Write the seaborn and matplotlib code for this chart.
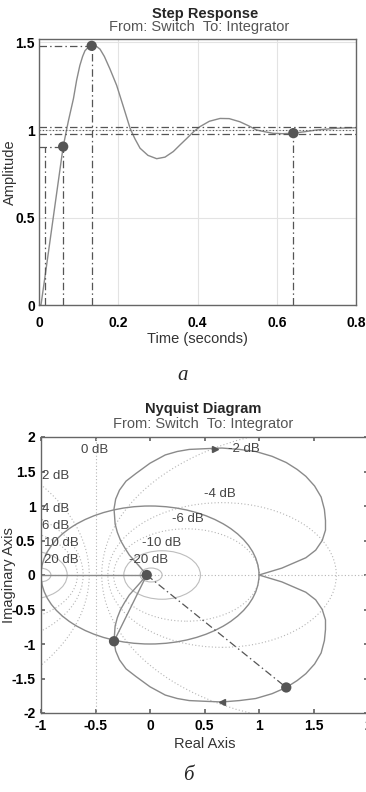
import numpy as np
import pandas as pd
import matplotlib
matplotlib.use('Agg')
import matplotlib.pyplot as plt
from matplotlib.patches import Circle
import seaborn as sns

# step response
step_t = [0.0, 0.005, 0.02, 0.04, 0.061, 0.074, 0.087, 0.095, 0.103, 0.11, 0.116, 0.124, 0.133,
          0.145, 0.154, 0.165, 0.179, 0.196, 0.212, 0.23, 0.242, 0.255, 0.275, 0.297, 0.318,
          0.339, 0.356, 0.373, 0.39, 0.406, 0.43, 0.457, 0.48, 0.507, 0.528, 0.549, 0.57, 0.591,
          0.615, 0.642, 0.67, 0.70, 0.75, 0.8]
step_y = [0.0, 0.0, 0.24, 0.565, 0.905, 1.05, 1.18, 1.285, 1.368, 1.42, 1.453, 1.472, 1.481,
          1.478, 1.462, 1.42, 1.349, 1.255, 1.14, 1.009, 0.95, 0.896, 0.855, 0.836, 0.845,
          0.877, 0.915, 0.952, 0.99, 1.019, 1.05, 1.066, 1.065, 1.047, 1.025, 1.0, 0.99, 0.981,
          0.979, 0.982, 0.99, 1.0, 1.01, 1.013]

# characteristic points: rise (10%, 90%), peak, settling
rise_t10 = 0.015
rise_t90, rise_y90 = 0.061, 0.905
peak_t, peak_y = 0.133, 1.481
settle_t, settle_y = 0.642, 0.982
settle_band = [0.98, 1.02]
final_value = 1.0

# nyquist curve, positive frequencies (from w=0 to w=inf)
nyq_re = [1.0, 1.21, 1.43, 1.52, 1.58, 1.61, 1.61, 1.60, 1.57, 1.51, 1.43, 1.35, 1.25, 1.12,
          0.97, 0.82, 0.66, 0.5, 0.36, 0.25, 0.14, 0.0, -0.13, -0.22, -0.28, -0.315, -0.33,
          -0.325, -0.32, -0.30, -0.27, -0.23, -0.19, -0.10, -0.03]
nyq_im = [0.0, -0.1, -0.25, -0.36, -0.5, -0.65, -0.79, -0.95, -1.13, -1.29, -1.43, -1.53, -1.63,
          -1.72, -1.79, -1.82, -1.84, -1.83, -1.82, -1.79, -1.74, -1.62, -1.47, -1.36, -1.23,
          -1.1, -0.96, -0.85, -0.74, -0.62, -0.5, -0.39, -0.29, -0.13, 0.0]

# marked points on nyquist
end_pt = (-0.03, 0.0)
pm_pt = (-0.33, -0.96)
peak_pt = (1.25, -1.63)
arrow_re = [0.6, 0.66]
arrow_im = [1.83, -1.84]

# M-circle grid
m_db = [20, 10, 6, 4, 2, -2, -4, -6, -10, -20]
m_labels = ['0 dB', '2 dB', '4 dB', '6 dB', '10 dB', '20 dB', '-20 dB', '-10 dB', '-6 dB', '-4 dB', '-2 dB']
m_lab_x = [-0.63, -0.99, -0.99, -0.99, -0.97, -0.97, -0.19, -0.07, 0.2, 0.5, 0.72]
m_lab_y = [1.81, 1.44, 0.96, 0.71, 0.46, 0.22, 0.22, 0.46, 0.81, 1.17, 1.82]

sns.set_theme(style='white')
plt.rcParams['font.family'] = ['Liberation Sans', 'DejaVu Sans']

line_gray = '#8a8a8a'
dark = '#555555'
dashdot = (0, (6, 2.5, 1.2, 2.5))
dotted = (0, (1, 2))

fig = plt.figure(figsize=(3.66, 7.92), dpi=100)

# ---------------- step response ----------------
ax1 = fig.add_axes([39 / 366, 1 - 305 / 792, 317 / 366, 266 / 792])
df = pd.DataFrame({'t': step_t, 'y': step_y})
sns.lineplot(data=df, x='t', y='y', ax=ax1, color=line_gray, lw=1.0, sort=False, estimator=None)

for yv in settle_band:
    ax1.axhline(yv, color=dark, lw=0.9, ls=dashdot)
ax1.axhline(final_value, color=dark, lw=0.8, ls=dotted)

ax1.plot([rise_t10, rise_t10], [0, rise_y90], color=dark, lw=0.9, ls=dashdot)
ax1.plot([rise_t90, rise_t90], [0, rise_y90], color=dark, lw=0.9, ls=dashdot)
ax1.plot([0, rise_t90], [rise_y90, rise_y90], color=dark, lw=0.9, ls=dashdot)
ax1.plot([peak_t, peak_t], [0, peak_y], color=dark, lw=0.9, ls=dashdot)
ax1.plot([0, peak_t], [peak_y, peak_y], color=dark, lw=0.9, ls=dashdot)
ax1.plot([settle_t, settle_t], [0, settle_y], color=dark, lw=0.9, ls=dashdot)

sns.scatterplot(x=[rise_t90, peak_t, settle_t], y=[rise_y90, peak_y, settle_y], ax=ax1,
                color=dark, s=55, edgecolor='none', zorder=5)

ax1.set_xlim(0, 0.8)
ax1.set_ylim(0, 1.52)
ax1.set_xticks([0, 0.2, 0.4, 0.6, 0.8])
ax1.set_xticklabels(['0', '0.2', '0.4', '0.6', '0.8'])
ax1.set_yticks([0, 0.5, 1, 1.5])
ax1.set_yticklabels(['0', '0.5', '1', '1.5'])
ax1.grid(True, color='#e3e3e3', lw=0.8)
ax1.tick_params(axis='both', labelsize=10, colors='black', pad=3, length=0)
ax1.tick_params(axis='x', pad=8)
for lab in ax1.get_xticklabels() + ax1.get_yticklabels():
    lab.set_fontweight('bold')
ax1.set_xlabel('Time (seconds)', fontsize=10.5, color='#333333', labelpad=1)
ax1.set_ylabel('Amplitude', fontsize=10.5, color='#333333')
ax1.yaxis.set_label_coords(-0.07, 0.5)
for sp in ax1.spines.values():
    sp.set_color('#666666')
    sp.set_linewidth(1.0)

fig.text(205 / 366, 1 - 14 / 792, 'Step Response', ha='center', va='center', fontsize=10.5,
         fontweight='bold')
fig.text(199 / 366, 1 - 27 / 792, 'From: Switch  To: Integrator', ha='center', va='center',
         fontsize=10.5, color='#555555')
fig.text(0.5, 1 - 375 / 792, 'а', ha='center', va='center', fontsize=15, style='italic',
         family='Liberation Serif')

# ---------------- nyquist ----------------
ax2 = fig.add_axes([41 / 366, 1 - 713 / 792, 327 / 366, 276 / 792])

# M circles
ax2.axvline(-0.5, color='#b5b5b5', lw=0.8, ls=dotted)
ax2.axhline(0, color='#b5b5b5', lw=0.8, ls=dotted)
for db in m_db:
    m = 10 ** (db / 20)
    c = -m ** 2 / (m ** 2 - 1)
    r = abs(m / (m ** 2 - 1))
    if abs(db) >= 10:
        ax2.add_patch(Circle((c, 0), r, fill=False, ec='#bdbdbd', lw=0.8))
    else:
        ax2.add_patch(Circle((c, 0), r, fill=False, ec='#b5b5b5', lw=0.8, ls=dotted))
for lab, lx, ly in zip(m_labels, m_lab_x, m_lab_y):
    ax2.text(lx, ly, lab, fontsize=9.5, color='#444444', ha='left', va='center')

# unit circle and negative real axis
ax2.add_patch(Circle((0, 0), 1, fill=False, ec=line_gray, lw=1.0))
ax2.plot([-1, end_pt[0]], [0, 0], color=line_gray, lw=1.0)

# nyquist branches
pos = pd.DataFrame({'re': nyq_re, 'im': nyq_im})
neg = pd.DataFrame({'re': nyq_re, 'im': [-v for v in nyq_im]})
sns.lineplot(data=pos, x='re', y='im', ax=ax2, color=line_gray, lw=1.0, sort=False, estimator=None)
sns.lineplot(data=neg, x='re', y='im', ax=ax2, color=line_gray, lw=1.0, sort=False, estimator=None)
ax2.plot(arrow_re[:1], arrow_im[:1], marker='>', ms=4, color=dark, ls='none')
ax2.plot(arrow_re[1:], arrow_im[1:], marker='<', ms=4, color=dark, ls='none')

ax2.plot([end_pt[0], pm_pt[0]], [end_pt[1], pm_pt[1]], color=line_gray, lw=1.0)
ax2.plot([end_pt[0], peak_pt[0]], [end_pt[1], peak_pt[1]], color=dark, lw=0.9, ls=dashdot)
sns.scatterplot(x=[end_pt[0], pm_pt[0], peak_pt[0]], y=[end_pt[1], pm_pt[1], peak_pt[1]], ax=ax2,
                color=dark, s=55, edgecolor='none', zorder=5)

ax2.set_xlim(-1, 2)
ax2.set_ylim(-2, 2)
ax2.set_xticks([-1, -0.5, 0, 0.5, 1, 1.5, 2])
ax2.set_xticklabels(['-1', '-0.5', '0', '0.5', '1', '1.5', '2'])
ax2.set_yticks([-2, -1.5, -1, -0.5, 0, 0.5, 1, 1.5, 2])
ax2.set_yticklabels(['-2', '-1.5', '-1', '-0.5', '0', '0.5', '1', '1.5', '2'])
ax2.tick_params(axis='both', labelsize=10, colors='black', direction='in', length=3,
                top=True, right=True, bottom=True, left=True, pad=4)
ax2.tick_params(axis='both', color='#666666')
for lab in ax2.get_xticklabels() + ax2.get_yticklabels():
    lab.set_fontweight('bold')
ax2.set_xlabel('Real Axis', fontsize=10.5, color='#333333')
ax2.xaxis.set_label_coords(0.5, -0.087)
ax2.set_ylabel('Imaginary Axis', fontsize=10.5, color='#333333')
ax2.yaxis.set_label_coords(-0.075, 0.5)
for sp in ax2.spines.values():
    sp.set_color('#666666')
    sp.set_linewidth(1.0)

fig.text(203 / 366, 1 - 409 / 792, 'Nyquist Diagram', ha='center', va='center', fontsize=10.5,
         fontweight='bold')
fig.text(203 / 366, 1 - 424 / 792, 'From: Switch  To: Integrator', ha='center', va='center',
         fontsize=10.5, color='#555555')
fig.text(188 / 366, 1 - 776 / 792, 'б', ha='center', va='center', fontsize=15, style='italic',
         family='Liberation Serif')

fig.savefig('out.png', dpi=100)
